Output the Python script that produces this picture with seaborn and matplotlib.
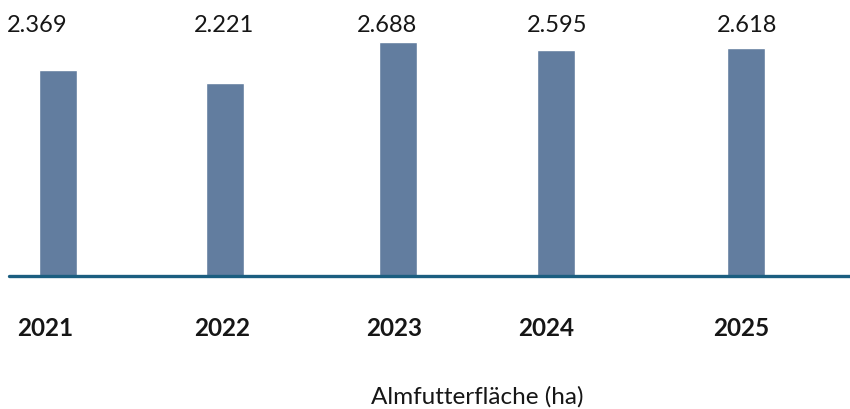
import matplotlib
matplotlib.use("Agg")
import matplotlib.pyplot as plt
import seaborn as sns
import pandas as pd

# data
years = ["2021", "2022", "2023", "2024", "2025"]
values = [2.369, 2.221, 2.688, 2.595, 2.618]
value_labels = ["2.369", "2.221", "2.688", "2.595", "2.618"]
title = "Almfutterfläche (ha)"

# layout (pixel positions of the reference, 850 x 409)
W, H = 850, 409
bar_x = [58, 225, 398, 556, 746]
value_label_x = [37.5, 224.5, 387, 557, 747]
year_label_x = [45, 222, 394.5, 546, 741]
baseline_y = 275.5

df = pd.DataFrame({"pos": bar_x, "value": values, "year": years})

sns.set_theme(style="white")
plt.rcParams["font.family"] = ["Lato", "DejaVu Sans"]

fig = plt.figure(figsize=(W / 100, H / 100), dpi=100)
ax = fig.add_axes([0, (H - baseline_y) / H, 1, baseline_y / H])

sns.barplot(data=df, x="pos", y="value", native_scale=True, width=38 / 158,
            color="#627d9f", saturation=1, ax=ax, zorder=2)
ax.set_xlim(0, W)
ax.set_ylim(0, 2.688 * baseline_y / (baseline_y - 42))
ax.axhline(0, xmin=9 / W, xmax=1, color="#1b5e80", linewidth=2.4, zorder=3,
           clip_on=False)
ax.axis("off")

#value labels along the top
for x, lab in zip(value_label_x, value_labels):
    fig.text(x / W, 1 - 25 / H, lab, ha="center", va="center",
             fontsize=17, color="#161616")

#year labels below the baseline
for x, yr in zip(year_label_x, years):
    fig.text(x / W, 1 - 329 / H, yr, ha="center", va="center",
             fontsize=17.5, fontweight="bold", color="#161616")

fig.text(477 / W, 1 - 397 / H, title, ha="center", va="center",
         fontsize=17.5, color="#161616")

fig.savefig("out.png", dpi=100)
